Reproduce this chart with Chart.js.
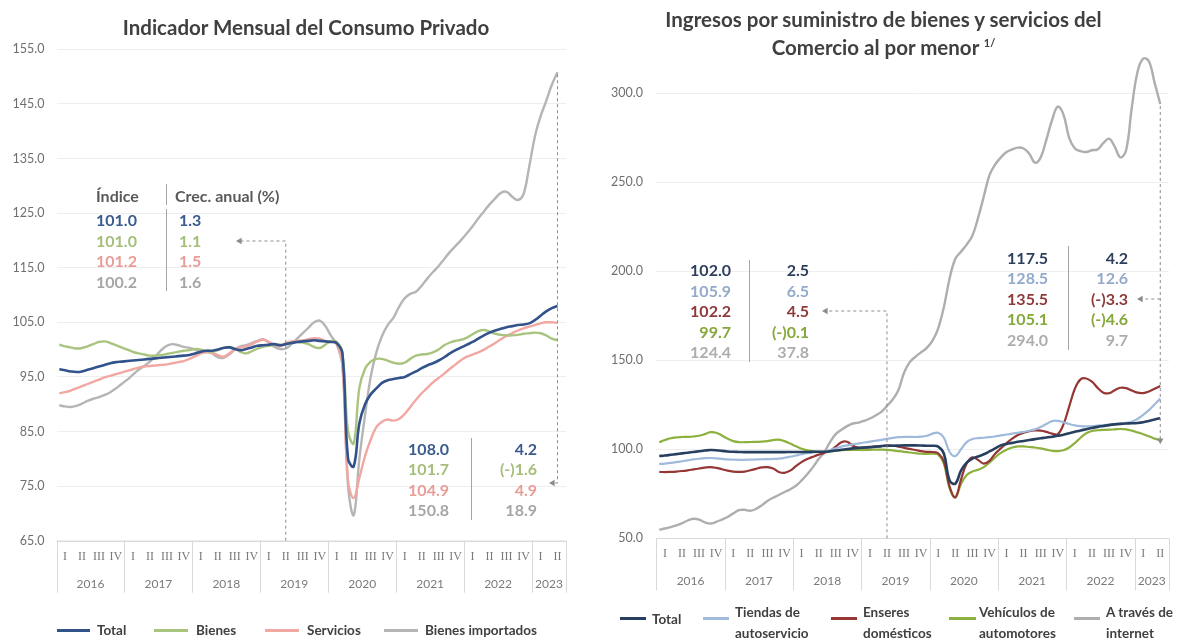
<!DOCTYPE html>
<html>
<head>
<meta charset="utf-8">
<script src="https://cdn.jsdelivr.net/npm/chart.js@4.4.1/dist/chart.umd.min.js"></script>
<style>
  body { margin: 0; width: 1177px; height: 638px; overflow: hidden; background: #fff; font-family: Lato, "Open Sans", sans-serif; position: relative; }
  canvas { position: absolute; top: 0; }
  .t { position: absolute; white-space: nowrap; line-height: 20px; font-weight: bold; font-size: 16px; }
  .title { position: absolute; text-align: center; font-weight: bold; font-size: 20.5px; color: #404040; line-height: 24px; }
  .sep { position: absolute; width: 1px; background: #A6A6A6; }
  .lg { position: absolute; height: 3px; }
  .lt { position: absolute; white-space: nowrap; font-weight: bold; font-size: 13.5px; color: #404040; line-height: 21px; }
</style>
</head>
<body>
<canvas id="left" width="588" height="638" style="left:0"></canvas>
<canvas id="right" width="589" height="638" style="left:588px"></canvas>
<div class="title" style="left:0;width:612px;top:15px">Indicador Mensual del Consumo Privado</div>
<div class="title" style="left:588px;width:591px;top:7px">Ingresos por suministro de bienes y servicios del<br>Comercio al por menor <sup style="font-size:11px">1/</sup></div>
<script>
// categories: monthly, Jan 2016 - Jun 2023 (data through May 2023)
const years = [2016, 2017, 2018, 2019, 2020, 2021, 2022, 2023];
const quarters = ['I', 'II', 'III', 'IV'];
const months = [];
years.forEach(yr => {
  for (let m = 1; m <= 12; m++) if (yr < 2023 || m <= 6) months.push(yr + '-' + String(m).padStart(2, '0'));
});
const refIdx = months.indexOf('2019-05');
const lastIdx = months.indexOf('2023-05');

// Indicador Mensual del Consumo Privado
const consTotal = [
  96.4, 96.2, 96.0, 95.9, 96.0, 96.3, 96.6, 96.9, 97.2, 97.5, 97.7, 97.8,
  97.9, 98.0, 98.1, 98.2, 98.3, 98.4, 98.5, 98.6, 98.7, 98.8, 98.9, 99.0,
  99.3, 99.6, 99.8, 99.8, 100.0, 100.3, 100.4, 100.1, 99.9, 100.1, 100.4, 100.7,
  100.8, 100.9, 101.0, 100.8, 101.0, 101.2, 101.4, 101.5, 101.6, 101.7, 101.6, 101.5,
  101.4, 101.2, 99.3, 80.0, 78.6, 86.5, 90.0, 91.8, 92.9, 93.9, 94.4, 94.6,
  94.8, 95.0, 95.5, 96.0, 96.6, 97.1, 97.5, 98.0, 98.6, 99.3, 99.9, 100.4,
  100.9, 101.4, 102.0, 102.6, 103.1, 103.5, 103.8, 104.1, 104.3, 104.5, 104.6, 104.8,
  105.4, 106.2, 107.0, 107.6, 108.0
];
const consBienes = [
  100.9, 100.6, 100.4, 100.2, 100.3, 100.6, 101.0, 101.4, 101.5, 101.2, 100.8, 100.4,
  100.0, 99.6, 99.3, 99.1, 98.9, 98.9, 99.0, 99.2, 99.4, 99.6, 99.8, 99.9,
  100.1, 100.0, 99.7, 99.6, 99.9, 100.3, 100.5, 100.2, 99.6, 99.3, 99.7, 100.2,
  100.5, 100.7, 100.9, 100.9, 101.0, 101.2, 101.4, 101.3, 101.0, 100.5, 100.3, 100.9,
  101.6, 101.4, 99.5, 85.0, 82.8, 93.0, 96.5, 97.8, 98.3, 98.3, 98.0, 97.6,
  97.4, 97.6, 98.3, 98.9, 99.1, 99.2, 99.5, 100.0, 100.8, 101.3, 101.6, 101.8,
  102.2, 102.8, 103.4, 103.6, 103.3, 102.9, 102.7, 102.6, 102.6, 102.7, 102.9, 103.0,
  103.1, 103.0, 102.6, 102.0, 101.7
];
const consServicios = [
  92.0, 92.2, 92.5, 92.9, 93.3, 93.7, 94.1, 94.5, 94.9, 95.2, 95.5, 95.8,
  96.1, 96.4, 96.7, 96.9, 97.0, 97.1, 97.2, 97.3, 97.5, 97.7, 97.9, 98.3,
  98.8, 99.3, 99.5, 99.4, 99.0, 98.7, 99.3, 100.0, 100.4, 100.6, 101.0, 101.5,
  101.8, 101.4, 100.9, 100.6, 101.2, 101.5, 101.6, 101.7, 101.9, 102.1, 102.0, 101.6,
  101.5, 101.0, 97.5, 76.0, 72.8, 76.5, 80.5, 83.5, 85.8, 86.8, 87.2, 87.0,
  87.3, 88.2, 89.5, 90.8, 92.0, 93.0, 94.0, 94.8, 95.6, 96.5, 97.3, 98.1,
  98.7, 99.1, 99.5, 100.0, 100.6, 101.2, 101.9, 102.5, 103.0, 103.5, 103.9, 104.2,
  104.5, 104.8, 105.0, 105.0, 104.9
];
const consImportados = [
  89.8, 89.6, 89.5, 89.7, 90.1, 90.6, 91.0, 91.3, 91.7, 92.2, 92.9, 93.7,
  94.5, 95.4, 96.3, 97.0, 97.8, 98.8, 99.9, 100.7, 101.0, 100.8, 100.5, 100.3,
  100.0, 99.7, 99.6, 99.3, 98.6, 98.5, 99.1, 100.0, 100.6, 100.8, 101.2, 101.6,
  101.9, 101.3, 100.5, 100.1, 100.2, 101.0, 102.0, 103.0, 104.0, 105.0, 105.3, 104.3,
  102.5, 101.0, 97.0, 75.0, 69.7, 80.0, 88.0, 95.0, 99.5, 102.5, 104.5, 105.8,
  107.8, 109.4, 110.2, 110.6, 111.7, 113.0, 114.2, 115.3, 116.6, 117.9, 119.0, 120.1,
  121.3, 122.6, 124.0, 125.3, 126.6, 127.7, 128.7, 128.9, 128.0, 127.4, 128.5, 133.5,
  139.0, 142.7, 145.5, 148.5, 150.8
];

// Ingresos del Comercio al por menor
const comTotal = [
  96.2, 96.5, 96.9, 97.3, 97.7, 98.1, 98.5, 98.9, 99.3, 99.6, 99.5, 99.1,
  98.8, 98.6, 98.5, 98.4, 98.4, 98.4, 98.4, 98.4, 98.4, 98.4, 98.4, 98.5,
  98.5, 98.5, 98.5, 98.6, 98.6, 98.6, 98.9, 99.3, 99.7, 100.1, 100.5, 100.8,
  101.0, 101.2, 101.5, 101.8, 102.0, 102.0, 102.1, 102.2, 102.2, 102.2, 102.1, 102.0,
  102.0, 101.5, 97.5, 82.5, 80.7, 88.0, 92.5, 94.8, 96.0, 97.2, 98.8, 100.5,
  102.2, 103.0, 103.6, 104.2, 104.7, 105.2, 105.7, 106.2, 106.6, 107.1, 107.6, 108.2,
  109.0, 109.8, 110.6, 111.3, 112.0, 112.6, 113.1, 113.6, 114.0, 114.3, 114.5, 114.6,
  114.8, 115.2, 115.9, 116.7, 117.5
];
const comTiendas = [
  91.8, 92.0, 92.4, 92.8, 93.3, 93.8, 94.3, 94.7, 95.0, 95.1, 94.9, 94.6,
  94.3, 94.2, 94.1, 94.1, 94.2, 94.3, 94.4, 94.5, 94.6, 94.8, 95.2, 95.8,
  96.5, 97.2, 97.8, 98.2, 98.5, 98.7, 99.5, 100.5, 101.5, 102.2, 102.8, 103.3,
  103.8, 104.3, 104.8, 105.3, 105.9, 106.4, 106.8, 107.0, 107.0, 106.9, 107.1, 107.6,
  108.8, 109.3, 106.5, 98.5, 96.2, 100.0, 104.0, 105.8, 106.3, 106.5, 106.8, 107.2,
  107.8, 108.3, 108.8, 109.3, 109.8, 110.4, 111.2, 112.5, 114.2, 115.8, 116.0, 115.2,
  114.2, 113.4, 113.0, 112.9, 113.0, 113.3, 113.6, 113.9, 114.2, 114.5, 114.9, 115.5,
  117.0, 119.3, 122.0, 125.2, 128.5
];
const comEnseres = [
  87.3, 87.2, 87.3, 87.5, 87.8, 88.2, 88.7, 89.2, 89.7, 90.0, 89.6, 88.8,
  88.0, 87.5, 87.3, 87.5, 88.2, 89.0, 89.8, 90.0, 89.2, 87.3, 86.8, 88.0,
  90.5, 92.8, 94.5, 95.8, 97.0, 98.0, 99.2, 101.5, 104.0, 104.2, 102.0, 100.8,
  100.9, 101.2, 101.5, 101.8, 102.2, 102.0, 101.5, 100.8, 100.2, 99.6, 99.0, 98.6,
  98.5, 97.8, 93.0, 79.0, 73.0, 83.0, 92.0, 95.5, 94.0, 92.0, 93.5, 97.5,
  100.5, 103.5, 106.0, 108.0, 109.3, 110.2, 110.6, 110.5, 109.8, 108.8, 108.5, 114.0,
  124.0, 134.0, 139.3, 139.8, 138.0, 134.5, 131.8, 131.5, 133.2, 134.6, 134.4, 133.0,
  131.8, 131.6, 132.5, 134.0, 135.5
];
const comVehiculos = [
  104.0, 105.2, 106.2, 106.7, 106.9, 107.0, 107.2, 107.6, 108.5, 109.6, 109.3, 107.8,
  106.0, 104.6, 104.0, 104.0, 104.1, 104.2, 104.3, 104.6, 105.2, 105.4, 104.6, 103.2,
  101.7, 100.3, 99.4, 98.9, 98.6, 98.5, 98.8, 99.2, 99.5, 99.6, 99.6, 99.6,
  99.6, 99.7, 99.8, 99.8, 99.7, 99.4, 99.0, 98.6, 98.2, 97.8, 97.5, 97.4,
  97.6, 97.0, 92.0, 78.0, 73.0, 80.5, 85.5, 87.5, 88.5, 90.0, 92.5, 95.5,
  98.0, 99.8, 101.0, 101.6, 101.6, 101.3, 101.0, 100.5, 99.8, 99.2, 99.0, 99.5,
  101.0, 103.5, 106.5, 109.0, 110.3, 110.7, 110.9, 111.0, 111.2, 111.4, 111.2, 110.5,
  109.5, 108.5, 107.3, 106.0, 105.1
];
const comInternet = [
  54.8, 55.5, 56.3, 57.2, 58.5, 60.0, 61.0, 60.5, 59.0, 58.3, 59.2, 60.5,
  62.0, 64.0, 65.8, 66.0, 65.5, 66.5, 68.5, 71.0, 72.8, 74.3, 76.0, 77.5,
  79.5, 82.5, 86.0, 90.0, 94.5, 98.5, 104.0, 108.5, 111.0, 113.0, 114.5, 115.0,
  116.0, 117.3, 119.0, 121.0, 124.4, 128.0, 133.2, 143.0, 149.0, 152.0, 154.5, 157.0,
  161.0, 168.0, 180.0, 196.0, 207.0, 211.0, 215.0, 220.0, 230.0, 242.0, 254.0, 260.0,
  264.0, 267.0, 268.5, 269.5, 269.0, 266.0, 261.0, 264.0, 274.0, 285.0, 292.5, 288.0,
  275.0, 269.0, 267.5, 267.0, 268.0, 268.5, 272.0, 274.5, 270.0, 264.0, 268.0, 292.0,
  312.0, 319.5, 318.0, 306.0, 294.0
];

// annotation tables: index level and annual growth (%)
const consIdx2019 = ['101.0', '101.0', '101.2', '100.2'];
const consGr2019 = ['1.3', '1.1', '1.5', '1.6'];
const consIdx2023 = ['108.0', '101.7', '104.9', '150.8'];
const consGr2023 = ['4.2', '(-)1.6', '4.9', '18.9'];
const comIdx2019 = ['102.0', '105.9', '102.2', '99.7', '124.4'];
const comGr2019 = ['2.5', '6.5', '4.5', '(-)0.1', '37.8'];
const comIdx2023 = ['117.5', '128.5', '135.5', '105.1', '294.0'];
const comGr2023 = ['4.2', '12.6', '(-)3.3', '(-)4.6', '9.7'];

const consNames = ['Total', 'Bienes', 'Servicios', 'Bienes importados'];
const consColors = ['#31528A', '#A9C47F', '#F2A8A2', '#B5B5B5'];
const consText = ['#3B5B8F', '#A5BE7A', '#E99D98', '#A6A6A6'];
const comNames = [['Total'], ['Tiendas de', 'autoservicio'], ['Enseres', 'domésticos'], ['Vehículos de', 'automotores'], ['A través de', 'internet']];
const comColors = ['#27405F', '#A0BADC', '#953735', '#8CB13E', '#AEAEAE'];
const comText = ['#2E3F5C', '#93AACB', '#8E3A3A', '#84A83A', '#ADADAD'];

// x axis drawn as an Excel style table: quarters over years
const axisTable = {
  id: 'axisTable',
  afterDraw(chart) {
    const { ctx, chartArea: a, scales: { x } } = chart;
    const slot = (a.right - a.left) / months.length;
    ctx.save();
    ctx.strokeStyle = '#D9D9D9';
    ctx.lineWidth = 1;
    ctx.beginPath();
    ctx.moveTo(a.left, Math.round(a.bottom) + 0.5);
    ctx.lineTo(a.right, Math.round(a.bottom) + 0.5);
    years.forEach((yr, k) => {
      const xx = Math.round(a.left + k * 12 * slot) + 0.5;
      ctx.moveTo(xx, a.bottom);
      ctx.lineTo(xx, a.bottom + 52);
    });
    const xr = Math.round(a.right) + 0.5;
    ctx.moveTo(xr, a.bottom);
    ctx.lineTo(xr, a.bottom + 52);
    ctx.stroke();

    ctx.fillStyle = '#7A7A7A';
    ctx.textAlign = 'center';
    ctx.textBaseline = 'middle';
    years.forEach((yr, k) => {
      ctx.font = '12px "Liberation Serif", serif';
      quarters.forEach((q, j) => {
        const idx = k * 12 + j * 3 + 1;
        if (idx < months.length) ctx.fillText(q, x.getPixelForValue(idx), a.bottom + 16);
      });
      const n = Math.min(12, months.length - k * 12);
      ctx.font = '12px Lato, sans-serif';
      ctx.fillText(String(yr), a.left + (k * 12 + n / 2) * slot, a.bottom + 43);
    });
    ctx.restore();
  }
};

function arrowHead(ctx, x, y, dir) {
  const s = 4;
  ctx.beginPath();
  if (dir === 'left') { ctx.moveTo(x, y); ctx.lineTo(x + s * 1.4, y - s * 0.8); ctx.lineTo(x + s * 1.4, y + s * 0.8); }
  else { ctx.moveTo(x, y); ctx.lineTo(x - s * 0.8, y - s * 1.4); ctx.lineTo(x + s * 0.8, y - s * 1.4); }
  ctx.closePath();
  ctx.fill();
}

function dashed(ctx, pts) {
  ctx.beginPath();
  ctx.moveTo(pts[0][0], pts[0][1]);
  pts.slice(1).forEach(p => ctx.lineTo(p[0], p[1]));
  ctx.stroke();
}

// dashed guides linking the reference months to their tables
function guidePlugin(draw) {
  return {
    id: 'guides',
    afterDraw(chart) {
      const ctx = chart.ctx;
      ctx.save();
      ctx.strokeStyle = '#8C8C8C';
      ctx.fillStyle = '#8C8C8C';
      ctx.lineWidth = 1;
      ctx.setLineDash([3, 3]);
      draw(chart, ctx);
      ctx.restore();
    }
  };
}

function makeChart(id, names, colors, series, yOpts, pad, yWidth, guides, widths) {
  return new Chart(document.getElementById(id), {
    type: 'line',
    data: {
      labels: months,
      datasets: series.map((s, i) => ({
        label: names[i].join ? names[i].join(' ') : names[i],
        data: s,
        borderColor: colors[i],
        borderWidth: widths[i],
        pointRadius: 0,
        tension: 0.4,
        fill: false
      }))
    },
    options: {
      responsive: false,
      animation: false,
      layout: { padding: pad },
      plugins: { legend: { display: false }, tooltip: { enabled: false } },
      scales: {
        x: { display: false, offset: true },
        y: Object.assign({
          border: { display: false },
          grid: { color: '#EEEEEE', drawTicks: false },
          afterFit: s => { s.width = yWidth; }
        }, yOpts)
      }
    },
    plugins: [axisTable, guidePlugin(guides)]
  });
}

makeChart('left', consNames, consColors, [consTotal, consBienes, consServicios, consImportados],
  { min: 65, max: 155, ticks: { color: '#6F6F6F', font: { family: 'Lato', size: 12.5 }, padding: 12, stepSize: 10, callback: v => v.toFixed(1) } },
  { left: 0, right: 22, top: 49.3, bottom: 97.3 }, 56.5,
  (chart, ctx) => {
    const { chartArea: a, scales: { x, y } } = chart;
    const xr = x.getPixelForValue(refIdx);
    dashed(ctx, [[xr, a.bottom], [xr, 241], [240, 241]]);
    ctx.setLineDash([]);
    arrowHead(ctx, 236, 241, 'left');
    ctx.setLineDash([3, 3]);
    const xe = x.getPixelForValue(lastIdx);
    dashed(ctx, [[xe, y.getPixelForValue(consImportados[lastIdx]) + 2], [xe, 483], [553, 483]]);
    ctx.setLineDash([]);
    arrowHead(ctx, 549, 483, 'left');
  }, [2.6, 2.4, 2.4, 2.4]);

makeChart('right', comNames, comColors, [comTotal, comTiendas, comEnseres, comVehiculos, comInternet],
  { min: 50, max: 325, ticks: { color: '#6F6F6F', font: { family: 'Lato', size: 12.5 }, padding: 13.4, stepSize: 50, includeBounds: false, callback: v => v.toFixed(1) } },
  { left: 0, right: 8.2, top: 48.8, bottom: 99.7 }, 68.4,
  (chart, ctx) => {
    const { chartArea: a, scales: { x, y } } = chart;
    const xr = x.getPixelForValue(refIdx);
    dashed(ctx, [[xr, a.bottom], [xr, 311], [238, 311]]);
    ctx.setLineDash([]);
    arrowHead(ctx, 234, 311, 'left');
    ctx.setLineDash([3, 3]);
    const xe = x.getPixelForValue(lastIdx);
    const yEnd = y.getPixelForValue(comVehiculos[lastIdx]) + 4;
    dashed(ctx, [[xe, y.getPixelForValue(comInternet[lastIdx]) + 2], [xe, yEnd - 5]]);
    dashed(ctx, [[xe, 299], [553, 299]]);
    ctx.setLineDash([]);
    arrowHead(ctx, xe, yEnd, 'down');
    arrowHead(ctx, 549, 299, 'left');
  }, [2.6, 2.2, 2.2, 2.2, 2.4]);

// html text overlays: tables, separators and legends
function put(text, x, y, color, align) {
  const d = document.createElement('div');
  d.className = 't';
  d.textContent = text;
  d.style.color = color;
  d.style.top = (y - 10) + 'px';
  if (align === 'right') d.style.right = (1177 - x) + 'px'; else d.style.left = x + 'px';
  document.body.appendChild(d);
}
function sep(x, y0, y1) {
  const d = document.createElement('div');
  d.className = 'sep';
  Object.assign(d.style, { left: x + 'px', top: y0 + 'px', height: (y1 - y0) + 'px' });
  document.body.appendChild(d);
}

// consumo: May 2019 table
put('Índice', 96, 196, '#595959', 'left');
put('Crec. anual (%)', 175, 196, '#595959', 'left');
sep(166, 184, 205);
sep(166, 209, 291);
consIdx2019.forEach((v, i) => {
  put(v, 96, 220 + i * 20.5, consText[i], 'left');
  put(consGr2019[i], 179, 220 + i * 20.5, consText[i], 'left');
});
// consumo: May 2023 table
sep(471, 438, 520);
consIdx2023.forEach((v, i) => {
  put(v, 449, 448.5 + i * 20.5, consText[i], 'right');
  put(consGr2023[i], 537, 448.5 + i * 20.5, consText[i], 'right');
});
// comercio: May 2019 table
sep(749, 260, 362);
comIdx2019.forEach((v, i) => {
  put(v, 731, 270 + i * 20.5, comText[i], 'right');
  put(comGr2019[i], 809, 270 + i * 20.5, comText[i], 'right');
});
// comercio: May 2023 table
sep(1068, 246, 350);
comIdx2023.forEach((v, i) => {
  put(v, 1048, 257.5 + i * 20.5, comText[i], 'right');
  put(comGr2023[i], 1128, 257.5 + i * 20.5, comText[i], 'right');
});

// legends
function legendItem(x0, x1, tx, y, color, lines, ty) {
  const l = document.createElement('div');
  l.className = 'lg';
  Object.assign(l.style, { left: x0 + 'px', width: (x1 - x0) + 'px', top: (y - 1.5) + 'px', background: color });
  document.body.appendChild(l);
  const t = document.createElement('div');
  t.className = 'lt';
  t.innerHTML = lines.join('<br>');
  Object.assign(t.style, { left: tx + 'px', top: (ty - 10.5) + 'px' });
  document.body.appendChild(t);
}
const consLegX = [[56.5, 90, 97], [154, 188, 196], [265, 299, 307], [384, 418, 425]];
consNames.forEach((n, i) => legendItem(consLegX[i][0], consLegX[i][1], consLegX[i][2], 630, consColors[i], [n], 630));
const comLegX = [[620, 646, 652], [703, 729, 735], [831, 857, 863], [949, 976, 979], [1074, 1100, 1106]];
comNames.forEach((n, i) => legendItem(comLegX[i][0], comLegX[i][1], comLegX[i][2], 618, comColors[i], n, n.length > 1 ? 612 : 619));
</script>
</body>
</html>
